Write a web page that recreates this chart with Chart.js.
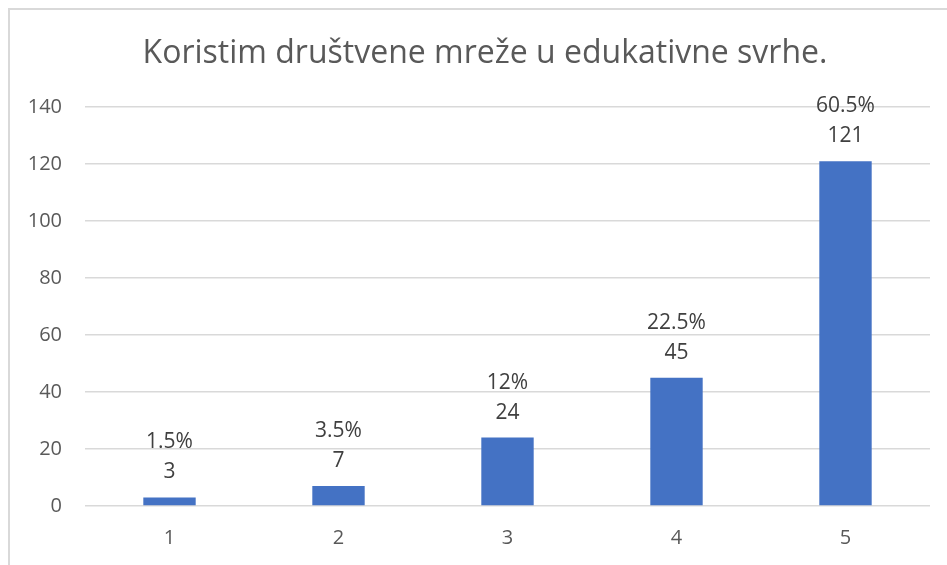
<!DOCTYPE html>
<html>
<head>
<meta charset="utf-8">
<script src="https://cdn.jsdelivr.net/npm/chart.js@4"></script>
<style>
  html, body { margin: 0; padding: 0; background: #fff; }
  #wrap { position: relative; width: 947px; height: 565px; overflow: hidden; }
  #frame { position: absolute; left: 8px; top: 8px; width: 960px; height: 600px;
           border-left: 2px solid #d9d9d9; border-top: 2px solid #d9d9d9; box-sizing: border-box; }
  canvas { position: absolute; left: 0; top: 0; }
</style>
</head>
<body>
<div id="wrap">
  <div id="frame"></div>
  <canvas id="c" width="947" height="565"></canvas>
</div>
<script>
const categories = ["1", "2", "3", "4", "5"];
const counts = [3, 7, 24, 45, 121];
const percentLabels = ["1.5%", "3.5%", "12%", "22.5%", "60.5%"];
const yTicks = [0, 20, 40, 60, 80, 100, 120, 140];
const titleText = "Koristim društvene mreže u edukativne svrhe.";

const FONT = "'Open Sans', 'Liberation Sans', sans-serif";

const labelPlugin = {
  id: 'barLabels',
  afterDatasetsDraw(chart) {
    const ctx = chart.ctx;
    const meta = chart.getDatasetMeta(0);
    ctx.save();
    ctx.fillStyle = '#404040';
    ctx.font = "21px " + FONT;
    ctx.textAlign = 'center';
    ctx.textBaseline = 'middle';
    meta.data.forEach((bar, i) => {
      const x = bar.x;
      const top = bar.y;
      ctx.fillText(String(counts[i]), x, top - 25);
      ctx.fillText(percentLabels[i], x, top - 55);
    });
    ctx.restore();
  },
  afterDraw(chart) {
    const ctx = chart.ctx;
    ctx.save();
    ctx.fillStyle = '#595959';
    ctx.font = "32px " + FONT;
    ctx.textAlign = 'center';
    ctx.textBaseline = 'alphabetic';
    ctx.fillText(titleText, 485, 63);
    ctx.restore();
  }
};

new Chart(document.getElementById('c'), {
  type: 'bar',
  data: {
    labels: categories,
    datasets: [{
      data: counts,
      backgroundColor: '#4472C4',
      borderWidth: 0,
      categoryPercentage: 1.0,
      barPercentage: 0.31
    }]
  },
  options: {
    responsive: false,
    animation: false,
    devicePixelRatio: 1,
    layout: { padding: { left: 0, right: 17, top: 107, bottom: 0 } },
    plugins: {
      legend: { display: false },
      tooltip: { enabled: false },
      title: { display: false }
    },
    scales: {
      x: {
        afterFit(axis) { axis.height = 59; },
        grid: { display: false, drawTicks: false },
        border: { display: false },
        ticks: { color: '#595959', font: { family: FONT, size: 20 }, padding: 20 }
      },
      y: {
        min: 0, max: 140,
        afterBuildTicks(axis) { axis.ticks = yTicks.map(v => ({ value: v })); },
        afterFit(axis) { axis.width = 85; },
        grid: { color: '#d9d9d9', lineWidth: 1.5, drawTicks: false },
        border: { display: false },
        ticks: { color: '#595959', font: { family: FONT, size: 20 }, padding: 23 }
      }
    }
  },
  plugins: [labelPlugin]
});
</script>
</body>
</html>
